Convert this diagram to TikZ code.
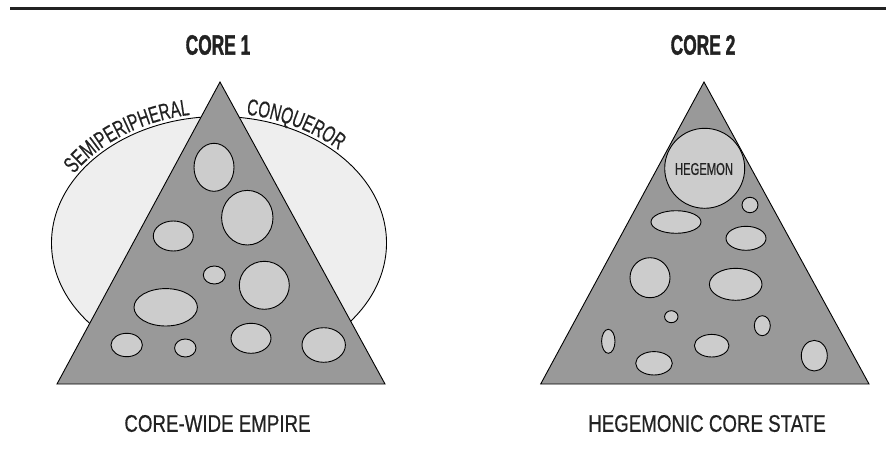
\documentclass[tikz,border=0pt]{standalone}
\usepackage{fontspec}
\setmainfont{Liberation Sans}
\newfontfamily\lblfont[FakeStretch=0.78,FakeBold=0.6]{Liberation Sans}
\newfontfamily\ttlfont[FakeStretch=0.62,FakeBold=1.2]{Liberation Sans}
\newfontfamily\hegfont[FakeStretch=0.66,FakeBold=0.5]{Liberation Sans}
\newfontfamily\arcfont[FakeStretch=0.66,LetterSpace=6,FakeBold=0.5]{Liberation Sans}
\usetikzlibrary{decorations.text}
\definecolor{tri}{HTML}{999999}
\definecolor{blob}{HTML}{CCCCCC}
\definecolor{halo}{HTML}{EEEEEE}
\definecolor{ink}{HTML}{222222}
\begin{document}
\begin{tikzpicture}[x=1pt,y=1pt,
  outline/.style={draw=black, line width=0.9pt},
  blobstyle/.style={outline, fill=blob},
  tristyle/.style={outline, fill=tri, line join=miter},
  halostyle/.style={outline, fill=halo},
  titlestyle/.style={text=ink, font=\ttlfont\bfseries\fontsize{28}{28}\selectfont, inner sep=0pt},
  labelstyle/.style={text=ink, font=\lblfont\fontsize{24}{24}\selectfont, inner sep=0pt},
  arctext/.style={decorate, decoration={text along path, text align=center, text color=ink, text={|\arcfont\fontsize{23}{23}\selectfont|#1}}}
]
\useasboundingbox (0,0) rectangle (886,459);
% top rule
\coordinate (ruleL) at (10,450.7);
\coordinate (ruleR) at (886,450.7);
\draw[line width=3pt, ink] (ruleL) -- (ruleR);
% titles
\node[titlestyle] (core1) at (218,414) {CORE 1};
\node[titlestyle] (core2) at (703,414) {CORE 2};
% bottom labels
\node[labelstyle] (lab1) at (217.5,35.5) {CORE-WIDE EMPIRE};
\node[labelstyle] (lab2) at (707,35.5) {HEGEMONIC CORE STATE};

% ---- left: core-wide empire ----
\draw[halostyle] (219,216) ellipse[x radius=167.5pt, y radius=126.5pt];
\draw[tristyle] (220,377) -- (57,75) -- (385,75) -- cycle;
\draw[blobstyle] (214,291.7) ellipse[x radius=20pt, y radius=24pt];
\draw[blobstyle] (247.3,241.3) ellipse[x radius=25.7pt, y radius=27.3pt];
\draw[blobstyle] (173.3,223) ellipse[x radius=20pt, y radius=15pt];
\draw[blobstyle] (214.3,184) ellipse[x radius=11pt, y radius=9pt];
\draw[blobstyle] (264.3,173.7) ellipse[x radius=25pt, y radius=24pt];
\draw[blobstyle] (165.7,151.7) ellipse[x radius=31.7pt, y radius=18.7pt];
\draw[blobstyle] (126.7,114) ellipse[x radius=15.7pt, y radius=11.7pt];
\draw[blobstyle] (185.3,111) ellipse[x radius=10.7pt, y radius=9pt];
\draw[blobstyle] (251,120.7) ellipse[x radius=20pt, y radius=15pt];
\draw[blobstyle] (323.7,114) ellipse[x radius=21.7pt, y radius=17.3pt];
% arc texts
\path[arctext=SEMIPERIPHERAL] (219,216) ++(160:171pt and 130pt)
  arc[start angle=160, end angle=90, x radius=171pt, y radius=130pt];
\path[arctext=CONQUEROR] (219,216) ++(90:171pt and 130pt)
  arc[start angle=90, end angle=35, x radius=171pt, y radius=130pt];

% ---- right: hegemonic core state ----
\draw[tristyle] (704,377) -- (540.7,75) -- (869,75) -- cycle;
\draw[blobstyle] (704.7,290.7) circle[radius=40pt];
\node[text=ink, font=\hegfont\fontsize{17}{17}\selectfont, inner sep=0pt] (heg) at (704,290) {HEGEMON};
\draw[blobstyle] (750,254) ellipse[x radius=8pt, y radius=7.7pt];
\draw[blobstyle] (676,237) ellipse[x radius=25pt, y radius=11.3pt];
\draw[blobstyle] (746,220.7) ellipse[x radius=20pt, y radius=12pt];
\draw[blobstyle] (650,181.3) ellipse[x radius=20pt, y radius=20pt];
\draw[blobstyle] (735.7,174.7) ellipse[x radius=26.3pt, y radius=16pt];
\draw[blobstyle] (671.3,142.3) ellipse[x radius=6.7pt, y radius=6pt];
\draw[blobstyle] (762.3,133.3) ellipse[x radius=8pt, y radius=10pt];
\draw[blobstyle] (608.3,117.7) ellipse[x radius=6.7pt, y radius=12pt];
\draw[blobstyle] (711.7,113.3) ellipse[x radius=17.3pt, y radius=11.3pt];
\draw[blobstyle] (654,95.7) ellipse[x radius=18.3pt, y radius=11.7pt];
\draw[blobstyle] (814.3,103.3) ellipse[x radius=13pt, y radius=15.3pt];
\end{tikzpicture}
\end{document}
